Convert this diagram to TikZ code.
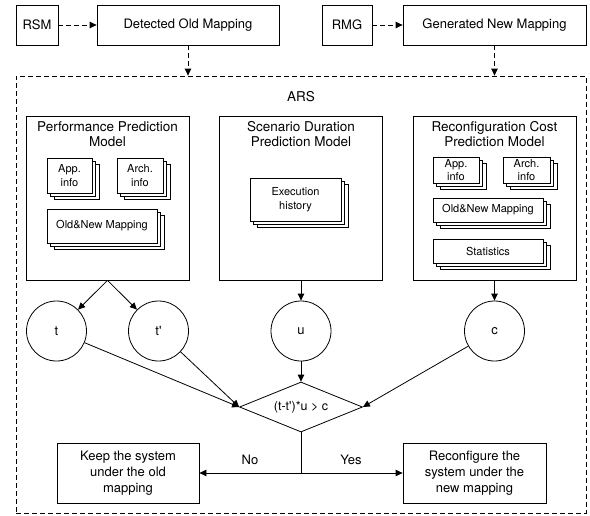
\documentclass[tikz,border=0pt]{standalone}
\usepackage{fontspec}
\setmainfont{TeX Gyre Heros}
\usetikzlibrary{shapes.geometric,arrows.meta,shadows}
\begin{document}
\begin{tikzpicture}[x=1pt,y=-1pt,
  every node/.style={inner sep=0pt, align=center},
  lw/.style={line width=0.8pt},
  box/.style={draw, lw, fill=white, font=\fontsize{13}{16}\selectfont},
  model/.style={draw, lw, minimum width=163pt, minimum height=164pt},
  title/.style={font=\fontsize{13.5}{15}\selectfont},
  docs/.style={draw, lw, fill=white, font=\fontsize{11}{14}\selectfont,
    copy shadow={shadow xshift=7pt, shadow yshift=-6pt},
    copy shadow={shadow xshift=3.5pt, shadow yshift=-3pt}},
  rdocs/.style={docs, font=\fontsize{11}{12.5}\selectfont},
  var/.style={draw, circle, lw, minimum size=60pt, font=\fontsize{13}{16}\selectfont},
  lbl/.style={font=\fontsize{13}{16}\selectfont},
  arr/.style={lw, -{Triangle[length=7pt,width=6.5pt]}},
  darr/.style={arr, dash pattern=on 5pt off 3pt},
]
\useasboundingbox (0,0) rectangle (590,515);

% outer ARS frame
\node[draw, lw, dash pattern=on 5pt off 3pt, minimum width=570pt, minimum height=437pt] (ars) at (301,294.5) {};
\node[title] (arst) at (301,97) {ARS};

% top row
\node[box, minimum width=42pt, minimum height=40pt] (rsm) at (37,25) {RSM};
\node[box, minimum width=182pt, minimum height=40pt] (dom) at (188,25) {Detected Old Mapping};
\node[box, minimum width=50pt, minimum height=40pt] (rmg) at (347,25) {RMG};
\node[box, minimum width=183pt, minimum height=40pt] (gnm) at (494.5,25) {Generated New Mapping};

% models
\node[model] (ppm) at (107.5,198) {};
\node[title] (ppmt) at (107.5,134.5) {Performance Prediction\\Model};
\node[model] (sdpm) at (301,198) {};
\node[title] (sdpmt) at (301,134.5) {Scenario Duration\\Prediction Model};
\node[model] (rcpm) at (494.5,198) {};
\node[title] (rcpmt) at (494.5,134.5) {Reconfiguration Cost\\Prediction Model};

% document stacks
\node[docs, minimum width=45pt, minimum height=35pt] (ppmapp) at (69.5,175.5) {App.\\info};
\node[docs, minimum width=46pt, minimum height=35pt] (ppmarch) at (140,175.5) {Arch.\\info};
\node[docs, minimum width=110pt, minimum height=34pt] (ppmmap) at (102,226) {Old\&New Mapping};
\node[docs, minimum width=91pt, minimum height=43pt] (exec) at (295.5,199.5) {Execution\\history};
\node[rdocs, minimum width=46pt, minimum height=26pt] (rcapp) at (456,170) {App.\\info};
\node[rdocs, minimum width=47pt, minimum height=26pt] (rcarch) at (526.5,170) {Arch.\\info};
\node[rdocs, minimum width=110pt, minimum height=24pt] (rcmap) at (488,210) {Old\&New Mapping};
\node[rdocs, minimum width=110pt, minimum height=24pt] (rcstat) at (488,251) {Statistics};

% variables
\node[var] (ct) at (56.5,331) {t};
\node[var] (ctp) at (158.5,331) {t\textquotesingle};
\node[var] (cu) at (301,331) {u};
\node[var] (cc) at (494.5,331) {c};

% decision
\node[draw, diamond, lw, aspect=2.46, minimum width=123pt, minimum height=50pt,
  font=\fontsize{12.5}{15}\selectfont] (dia) at (301,407) {(t-t\textquotesingle)*u > c};

% outcomes
\node[box, minimum width=142pt, minimum height=60pt] (keep) at (128,473) {Keep the system\\under the old\\mapping};
\node[box, minimum width=143pt, minimum height=60pt] (reconf) at (474.5,473) {Reconfigure the\\system under the\\new mapping};
\coordinate (split) at (301,473);
\node[lbl] (no) at (250,460) {No};
\node[lbl] (yes) at (351,460) {Yes};

% connectors
\draw[darr] (rsm) -- (dom);
\draw[darr] (rmg) -- (gnm);
\draw[darr] (dom.south) -- (dom.south |- ars.north);
\draw[darr] (gnm.south) -- (gnm.south |- ars.north);
\draw[arr] (ppm.south) -- (ct);
\draw[arr] (ppm.south) -- (ctp);
\draw[arr] (sdpm.south) -- (cu);
\draw[arr] (rcpm.south) -- (cc);
\draw[arr] (ct) -- (dia.west);
\draw[arr] (ctp) -- (dia.west);
\draw[arr] (cu) -- (dia.north);
\draw[arr] (cc) -- (dia.east);
\draw[lw] (dia.south) -- (split);
\draw[arr] (split) -- (keep);
\draw[arr] (split) -- (reconf);
\end{tikzpicture}
\end{document}
